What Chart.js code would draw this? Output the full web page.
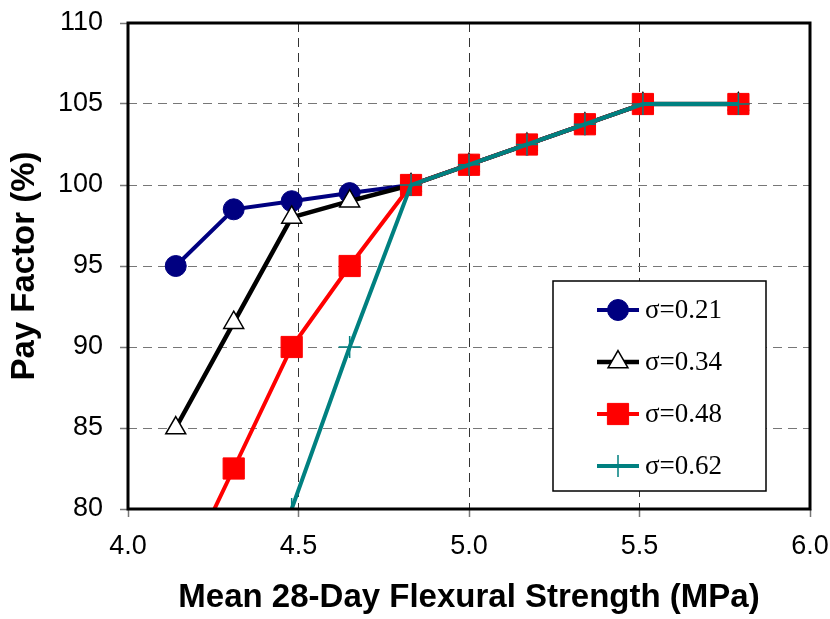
<!DOCTYPE html>
<html>
<head>
<meta charset="utf-8">
<script src="https://cdn.jsdelivr.net/npm/chart.js@4/dist/chart.umd.min.js"></script>
<style>
  html, body { margin: 0; padding: 0; background: #fff; }
  #wrap { width: 830px; height: 619px; position: relative; }
</style>
</head>
<body>
<div id="wrap"><canvas id="payChart"></canvas></div>
<script>
// mean 28-day flexural strength (MPa)
const strength = [4.14, 4.31, 4.48, 4.65, 4.83, 5.0, 5.17, 5.34, 5.51, 5.79];
const pf021 = [95, 98.5, 99, 99.5, 100, 101.25, 102.5, 103.75, 105, 105];
const pf034 = [85, 91.5, 98, 99, 100, 101.25, 102.5, 103.75, 105, 105];
const pf048 = [75, 82.5, 90, 95, 100, 101.25, 102.5, 103.75, 105, 105];
const pf062 = [null, null, 80, 90, 100, 101.25, 102.5, 103.75, 105, 105];
const seriesLabels = ['σ=0.21', 'σ=0.34', 'σ=0.48', 'σ=0.62'];
const xTicks = [4.0, 4.5, 5.0, 5.5, 6.0];
const yTicks = [80, 85, 90, 95, 100, 105, 110];

function pts(vals) {
  return strength.map((x, i) => ({ x: x, y: vals[i] })).filter(p => p.y !== null);
}

// legend box drawn inside the plot area, plus the heavy frame
const framePlugin = {
  id: 'frameAndLegend',
  afterDatasetsDraw(chart) {
    const { ctx, chartArea: a } = chart;
    ctx.save();
    ctx.strokeStyle = '#000';
    ctx.lineWidth = 3;
    ctx.strokeRect(a.left, a.top, a.right - a.left, a.bottom - a.top);

    // legend
    ctx.fillStyle = '#fff';
    ctx.fillRect(553, 281, 213, 210);
    ctx.lineWidth = 1.5;
    ctx.strokeStyle = '#000';
    ctx.strokeRect(553, 281, 213, 210);
    const rows = [310, 362, 414, 466];
    chart.data.datasets.forEach((ds, i) => {
      const y = rows[i];
      ctx.beginPath();
      ctx.strokeStyle = ds.borderColor;
      ctx.lineWidth = ds.borderWidth;
      ctx.moveTo(597, y);
      ctx.lineTo(639, y);
      ctx.stroke();
      ctx.fillStyle = ds.pointBackgroundColor;
      ctx.strokeStyle = ds.pointBorderColor;
      ctx.lineWidth = ds.pointBorderWidth;
      Chart.helpers.drawPoint(ctx, {
        pointStyle: ds.pointStyle,
        radius: ds.pointRadius,
        rotation: 0,
        borderWidth: ds.pointBorderWidth
      }, 618, y);
      ctx.fillStyle = '#000';
      ctx.font = '27px "Liberation Serif", "Times New Roman", serif';
      ctx.textBaseline = 'middle';
      ctx.fillText(ds.label, 645, y + 1);
    });
    ctx.restore();
  }
};

const ctx = document.getElementById('payChart').getContext('2d');

const payChart = new Chart(ctx, {
  type: 'line',
  data: {
    datasets: [
      {
        label: seriesLabels[0],
        data: pts(pf021),
        borderColor: '#000080',
        borderWidth: 4,
        pointStyle: 'circle',
        pointRadius: 10.5,
        pointBackgroundColor: '#000080',
        pointBorderColor: '#000080',
        pointBorderWidth: 1,
        order: 3
      },
      {
        label: seriesLabels[1],
        data: pts(pf034),
        borderColor: '#000000',
        borderWidth: 4.5,
        pointStyle: 'triangle',
        pointRadius: 11.5,
        pointBackgroundColor: '#ffffff',
        pointBorderColor: '#000000',
        pointBorderWidth: 1.5,
        order: 2
      },
      {
        label: seriesLabels[2],
        data: pts(pf048),
        borderColor: '#ff0000',
        borderWidth: 4,
        pointStyle: 'rect',
        pointRadius: 15,
        pointBackgroundColor: '#ff0000',
        pointBorderColor: '#ff0000',
        pointBorderWidth: 1,
        order: 1
      },
      {
        label: seriesLabels[3],
        data: pts(pf062),
        borderColor: '#008080',
        borderWidth: 4,
        pointStyle: 'cross',
        pointRadius: 11,
        pointBackgroundColor: '#008080',
        pointBorderColor: '#008080',
        pointBorderWidth: 1.5,
        order: 0
      }
    ]
  },
  options: {
    responsive: true,
    maintainAspectRatio: false,
    animation: false,
    events: [],
    layout: {
      padding: { top: 23, right: 20, left: 0, bottom: 0 }
    },
    plugins: {
      legend: { display: false },
      tooltip: { enabled: false }
    },
    elements: {
      line: { tension: 0 }
    },
    scales: {
      x: {
        type: 'linear',
        min: 4,
        max: 6,
        afterBuildTicks: (axis) => { axis.ticks = xTicks.map(v => ({ value: v })); },
        afterFit: (axis) => {
          axis.height = 110;
          axis.paddingLeft = 0;
          axis.paddingRight = 0;
        },
        ticks: {
          color: '#000',
          padding: 13,
          font: { family: '"Liberation Sans", Arial, sans-serif', size: 27 },
          callback: (v) => Number(v).toFixed(1)
        },
        grid: {
          color: '#333',
          lineWidth: 1,
          tickLength: 8,
          tickColor: '#777',
          tickWidth: 1.5
        },
        border: { display: false, dash: [9, 6] },
        title: {
          display: true,
          text: 'Mean 28-Day Flexural Strength (MPa)',
          color: '#000',
          font: { family: '"Liberation Sans", Arial, sans-serif', size: 33, weight: 'bold' },
          padding: { top: 0, bottom: 1 }
        }
      },
      y: {
        min: 80,
        max: 110,
        afterBuildTicks: (axis) => { axis.ticks = yTicks.map(v => ({ value: v })); },
        afterFit: (axis) => {
          axis.width = 128;
          axis.paddingTop = 0;
          axis.paddingBottom = 0;
        },
        ticks: {
          color: '#000',
          padding: 17,
          font: { family: '"Liberation Sans", Arial, sans-serif', size: 27 }
        },
        grid: {
          color: '#777',
          lineWidth: 1,
          tickLength: 8,
          tickColor: '#777',
          tickWidth: 1.5
        },
        border: { display: false, dash: [9, 6] },
        title: {
          display: true,
          text: 'Pay Factor (%)',
          color: '#000',
          font: { family: '"Liberation Sans", Arial, sans-serif', size: 33, weight: 'bold' },
          padding: { top: 5, bottom: 0 }
        }
      }
    }
  },
  plugins: [framePlugin]
});
</script>
</body>
</html>
